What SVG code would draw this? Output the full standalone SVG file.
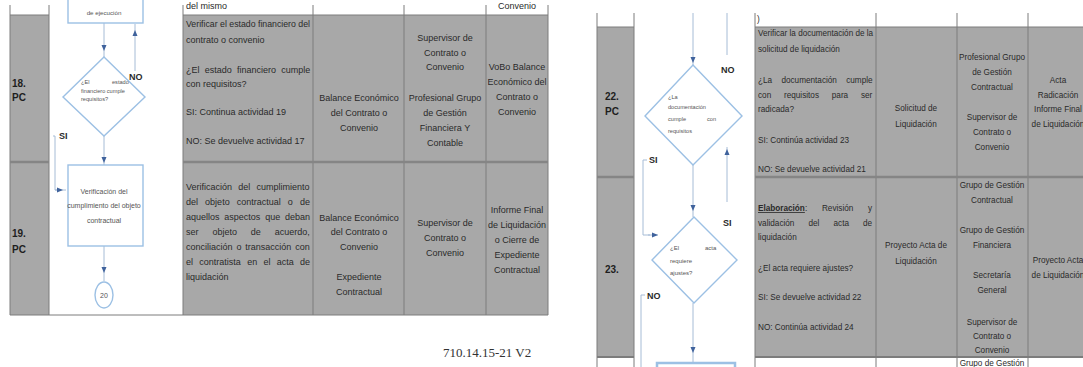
<svg xmlns="http://www.w3.org/2000/svg" width="1083" height="367" viewBox="0 0 1083 367">
<style>
.bg{fill:#ffffff}
.cell{fill:#a8a8a8}
.grid{stroke:#7c7c7c;stroke-width:1;fill:none}
.sep{stroke:#858585;stroke-width:2.5;fill:none}
.t{font-family:"Liberation Sans",Arial,sans-serif;font-size:9px;fill:#2a2a2a}
.tr{font-family:"Liberation Sans",Arial,sans-serif;font-size:8.2px;fill:#2a2a2a}
.c{text-anchor:middle}
.lbl{font-family:"Liberation Sans",Arial,sans-serif;font-size:10px;font-weight:bold;fill:#1e1e1e}
.shape{fill:#ffffff;stroke:#9cc0e4;stroke-width:1.4}
.ft{font-family:"Liberation Sans",Arial,sans-serif;font-size:7px;fill:#555555}
.fs{font-family:"Liberation Sans",Arial,sans-serif;font-size:5.6px;fill:#555555}
.con{stroke:#a6bcd6;stroke-width:1;fill:none}
.conm{stroke:#a6bcd6;stroke-width:1;fill:none;marker-mid:url(#arr)}
.br{font-family:"Liberation Sans",Arial,sans-serif;font-size:9px;font-weight:bold;fill:#2a2a2a}
.foot{font-family:"Liberation Serif","Times New Roman",serif;font-size:13px;fill:#333333}
</style>
<defs>
<marker id="arr" markerUnits="userSpaceOnUse" markerWidth="6" markerHeight="6" refX="3" refY="3" orient="auto">
<path d="M0,0.5 L6,3 L0,5.5 z" fill="#3f629c"/>
</marker>
</defs>
<rect class="bg" x="0" y="0" width="1083" height="367"/>

<!-- LEFT TABLE -->
<g id="table-left">
<rect class="cell" x="10" y="15" width="39" height="300"/>
<rect class="cell" x="183" y="15" width="365" height="300"/>
<path class="grid" d="M10 5V315M49 5V315M183 5V315M313 5V315M404 5V315M486 5V315M548 5V315M10 15H49M183 15H548M10 315H548"/>
<path class="sep" d="M10 162H49M183 162H548"/>
<text class="t" x="186" y="9">del mismo</text>
<text class="t c" x="517" y="9">Convenio</text>
<text class="lbl" x="12" y="87">18.</text>
<text class="lbl" x="12" y="101">PC</text>
<text class="lbl" x="12" y="237">19.</text>
<text class="lbl" x="12" y="253">PC</text>
<!-- row 18 -->
<text class="t" x="186" y="27" textLength="124" lengthAdjust="spacingAndGlyphs">Verificar el estado financiero del</text>
<text class="t" x="186" y="43">contrato o convenio</text>
<text class="t" x="186" y="73" style="word-spacing:2.7px">¿El estado financiero cumple</text>
<text class="t" x="186" y="87">con requisitos?</text>
<text class="t" x="186" y="115">SI: Continua actividad 19</text>
<text class="t" x="186" y="144">NO: Se devuelve actividad 17</text>
<text class="t c" x="359" y="101">Balance Económico</text>
<text class="t c" x="359" y="116">del Contrato o</text>
<text class="t c" x="359" y="131">Convenio</text>
<text class="t c" x="445" y="41">Supervisor de</text>
<text class="t c" x="445" y="56">Contrato o</text>
<text class="t c" x="445" y="70">Convenio</text>
<text class="t c" x="445" y="101">Profesional Grupo</text>
<text class="t c" x="445" y="116">de Gestión</text>
<text class="t c" x="445" y="131">Financiera Y</text>
<text class="t c" x="445" y="146">Contable</text>
<text class="t c" x="517" y="70">VoBo Balance</text>
<text class="t c" x="517" y="85">Económico del</text>
<text class="t c" x="517" y="100">Contrato o</text>
<text class="t c" x="517" y="115">Convenio</text>
<!-- row 19 -->
<text class="t" x="186" y="190" style="word-spacing:3.7px">Verificación del cumplimiento</text>
<text class="t" x="186" y="205" style="word-spacing:4.6px">del objeto contractual o de</text>
<text class="t" x="186" y="220" style="word-spacing:2.3px">aquellos aspectos que deban</text>
<text class="t" x="186" y="235" style="word-spacing:11.4px">ser objeto de acuerdo,</text>
<text class="t" x="186" y="250" style="word-spacing:1.4px">conciliación o transacción con</text>
<text class="t" x="186" y="265" style="word-spacing:3.8px">el contratista en el acta de</text>
<text class="t" x="186" y="280">liquidación</text>
<text class="t c" x="359" y="221">Balance Económico</text>
<text class="t c" x="359" y="235">del Contrato o</text>
<text class="t c" x="359" y="250">Convenio</text>
<text class="t c" x="359" y="280">Expediente</text>
<text class="t c" x="359" y="295">Contractual</text>
<text class="t c" x="445" y="226">Supervisor de</text>
<text class="t c" x="445" y="241">Contrato o</text>
<text class="t c" x="445" y="256">Convenio</text>
<text class="t c" x="517" y="213">Informe Final</text>
<text class="t c" x="517" y="228">de Liquidación</text>
<text class="t c" x="517" y="243">o Cierre de</text>
<text class="t c" x="517" y="258">Expediente</text>
<text class="t c" x="517" y="273">Contractual</text>
</g>

<!-- RIGHT TABLE -->
<g id="table-right">
<rect class="cell" x="597" y="27" width="37" height="330"/>
<rect class="cell" x="755" y="27" width="328" height="330"/>
<path class="grid" d="M597 13V367M634 13V367M755 13V367M876 13V367M957 13V367M1028 13V367M597 27H634M755 27H1083"/>
<path class="sep" d="M597 177H634M755 177H1083"/>
<path class="grid" d="M597 357H634M755 357H1083" style="stroke-width:1.8"/>
<text class="tr" x="757" y="22">)</text>
<text class="lbl" x="605" y="100">22.</text>
<text class="lbl" x="605" y="115">PC</text>
<text class="lbl" x="605" y="273">23.</text>
<!-- row 22 -->
<text class="tr" x="758" y="36" textLength="115" lengthAdjust="spacingAndGlyphs">Verificar la documentación de la</text>
<text class="tr" x="758" y="52">solicitud de liquidación</text>
<text class="tr" x="758" y="83" style="word-spacing:7px">¿La documentación cumple</text>
<text class="tr" x="758" y="98" style="word-spacing:10.5px">con requisitos para ser</text>
<text class="tr" x="758" y="112">radicada?</text>
<text class="tr" x="758" y="143">SI: Continúa actividad 23</text>
<text class="tr" x="758" y="172">NO: Se devuelve actividad 21</text>
<text class="tr c" x="916" y="111">Solicitud de</text>
<text class="tr c" x="916" y="127">Liquidación</text>
<text class="tr c" x="992" y="60">Profesional Grupo</text>
<text class="tr c" x="992" y="75">de Gestión</text>
<text class="tr c" x="992" y="90">Contractual</text>
<text class="tr c" x="992" y="120">Supervisor de</text>
<text class="tr c" x="992" y="135">Contrato o</text>
<text class="tr c" x="992" y="150">Convenio</text>
<text class="tr c" x="1058" y="83">Acta</text>
<text class="tr c" x="1058" y="98">Radicación</text>
<text class="tr c" x="1058" y="112">Informe Final</text>
<text class="tr c" x="1058" y="127">de Liquidación</text>
<!-- row 23 -->
<text class="tr" x="758" y="211" style="word-spacing:12.5px"><tspan font-weight="bold" text-decoration="underline">Elaboración</tspan>: Revisión y</text>
<text class="tr" x="758" y="226" style="word-spacing:11.8px">validación del acta de</text>
<text class="tr" x="758" y="240">liquidación</text>
<text class="tr" x="758" y="271">¿El acta requiere ajustes?</text>
<text class="tr" x="758" y="300">SI: Se devuelve actividad 22</text>
<text class="tr" x="758" y="330">NO: Continúa actividad 24</text>
<text class="tr c" x="916" y="248">Proyecto Acta de</text>
<text class="tr c" x="916" y="264">Liquidación</text>
<text class="tr c" x="992" y="188">Grupo de Gestión</text>
<text class="tr c" x="992" y="203">Contractual</text>
<text class="tr c" x="992" y="233">Grupo de Gestión</text>
<text class="tr c" x="992" y="248">Financiera</text>
<text class="tr c" x="992" y="278">Secretaría</text>
<text class="tr c" x="992" y="293">General</text>
<text class="tr c" x="992" y="325">Supervisor de</text>
<text class="tr c" x="992" y="339">Contrato o</text>
<text class="tr c" x="992" y="353">Convenio</text>
<text class="tr c" x="992" y="366">Grupo de Gestión</text>
<text class="tr c" x="1058" y="263">Proyecto Acta</text>
<text class="tr c" x="1058" y="278">de Liquidación</text>
</g>

<!-- CONNECTORS -->
<g id="connectors">
<path class="conm" d="M104 23V48V57"/>
<path class="conm" d="M135 71V33V24"/>
<path class="conm" d="M104 136V160V165"/>
<path class="con" d="M53 136H55V190H58"/>
<path class="conm" d="M55 190H60H66"/>
<path class="conm" d="M104 246V270V281"/>
<path class="conm" d="M693 13V60V65"/>
<path class="con" d="M727 13V55"/>
<path class="conm" d="M727 202V152V147"/>
<path class="conm" d="M693 165V208V217"/>
<path class="con" d="M647 160H643V235H650"/>
<path class="conm" d="M648 235H655H658"/>
<path class="con" d="M645 295H641V367"/>
<path class="conm" d="M693 303V350V362"/>
<text class="br" x="129" y="80">NO</text>
<text class="br" x="59" y="139">SI</text>
<text class="br" x="721" y="73">NO</text>
<text class="br" x="649" y="163">SI</text>
<text class="br" x="723" y="226">SI</text>
<text class="br" x="647" y="299">NO</text>
</g>

<!-- NODES -->
<g id="node-ejecucion">
<rect class="shape" x="68" y="-10" width="75" height="33"/>
<text class="fs c" x="104" y="15" style="font-size:6.2px">de ejecución</text>
</g>
<g id="node-d18">
<path class="shape" d="M104 57L145 97L104 136L63 97Z"/>
<text class="fs" x="81" y="84">¿El<tspan x="112">estado</tspan></text>
<text class="fs" x="81" y="93">financiero cumple</text>
<text class="fs" x="81" y="101">requisitos?</text>
</g>
<g id="node-19">
<rect class="shape" x="68" y="165" width="75" height="81"/>
<text class="ft c" x="104" y="194">Verificación del</text>
<text class="ft c" x="104" y="208">cumplimiento del objeto</text>
<text class="ft c" x="104" y="223">contractual</text>
</g>
<g id="node-20">
<ellipse class="shape" cx="104" cy="295" rx="9" ry="13"/>
<text class="ft c" x="104" y="298">20</text>
</g>
<g id="node-d22">
<path class="shape" d="M693 65L742 116L693 165L645 116Z"/>
<text class="fs" x="668" y="99">¿La</text>
<text class="fs" x="668" y="109">documentación</text>
<text class="fs" x="668" y="121">cumple<tspan x="707">con</tspan></text>
<text class="fs" x="668" y="133">requisitos</text>
</g>
<g id="node-d23">
<path class="shape" d="M694 217L737 260L694 303L652 260Z"/>
<text class="fs" x="670" y="250" style="font-size:6px">¿El<tspan x="705">acta</tspan></text>
<text class="fs" x="670" y="263" style="font-size:6px">requiere</text>
<text class="fs" x="670" y="275" style="font-size:6px">ajustes?</text>
</g>
<g id="node-24">
<rect class="shape" x="657" y="363" width="78" height="12" style="stroke-width:2.5"/>
</g>

<text class="foot" x="443" y="357">710.14.15-21 V2</text>
</svg>
